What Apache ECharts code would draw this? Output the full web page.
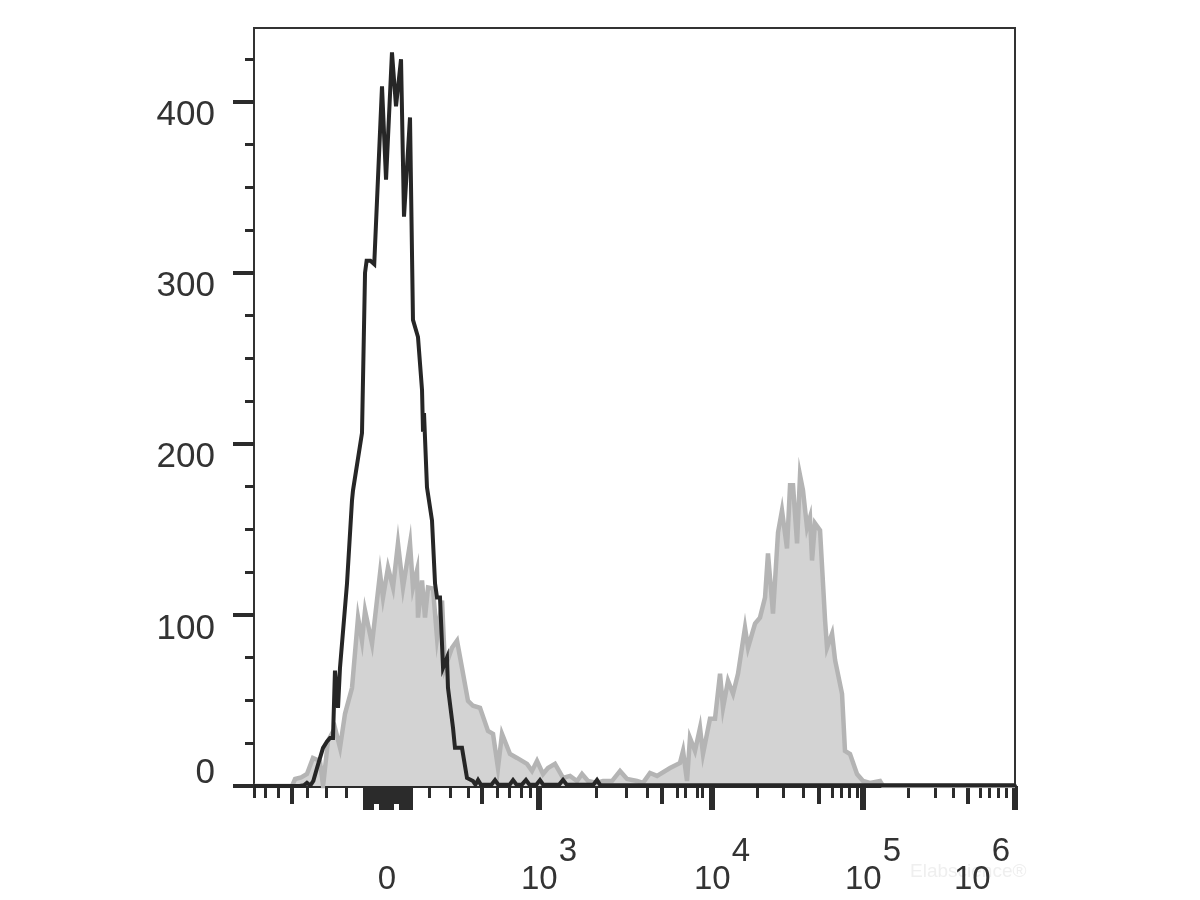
<!DOCTYPE html>
<html><head><meta charset="utf-8">
<script src="https://cdn.jsdelivr.net/npm/echarts@6/dist/echarts.min.js"></script>
<style>html,body{margin:0;padding:0;background:#fff}#c{width:1200px;height:900px}</style>
</head><body><div id="c"></div>
<script>
// x: display channel (0..1000 across the biexponential axis), y: event count
const controlX = [0,60,66,69.6,74,78,82.8,90.7,96,99.9,103.8,106.4,110.4,113,122.2,128.8,130.1,141.9,145.9,148,153,158,168.2,173.5,181.3,186.6,193.2,197.1,205,208.9,215.5,220.8,222.1,223.4,227.3,233.9,237.9,240.5,244.4,248.4,253.6,254.9,261.5,264.1,273.3,279.9,287.8,291,294.4,298,312,316.7,321,336,340.4,345,352,357.4,362,371,375.8,380,401,406.1,411,446,450.7,455,1000];
const controlY = [0,0,0.5,1.8,0.3,3,10.5,22.3,26,28.1,28.1,67.4,45.7,69.1,118.3,167,172.8,206.2,299.9,307,307,305,408.9,354.4,428.8,397.2,424.7,332.7,390.7,272.4,262.4,231.4,207,218,174.6,155.2,118.3,110.1,110.1,69.1,75,57.4,34,22.3,22.3,4.7,2.9,0.8,3.5,0.8,0.8,3.5,0.8,0.8,3.5,0.8,0.8,3.5,0.8,0.8,3.5,0.8,0.8,3.5,0.8,0.8,3.5,0.5,0.5];

const stainedX = [0,50,54,62,69.6,77.5,86.7,90,90.7,91.5,97.2,106.4,113,119.6,128.8,136.7,141.9,145.9,155.1,165.6,169.5,176.1,182.7,189.2,195.8,205,208.9,214.2,215.5,220.8,224.7,228.7,235.2,240.5,247.1,251,260.2,266.8,273.3,281.2,287.8,297,307.5,314.1,320.6,325.9,336.4,345.6,358.8,365.3,371.9,379.8,386.3,395.5,406.1,415.3,424.5,431,438.9,450.7,458.6,470.4,481,490.2,503.3,511.2,520.4,529.6,546.7,559.8,563.8,569,572.9,579.5,586.1,590,599.2,605.8,612.4,616.3,622.9,629.5,636,645.2,649.2,658.4,664.9,671.5,675.4,682,688.6,693.8,700.4,704.4,708.3,713.6,717.5,721.4,726.7,730.6,733.3,737.2,743.8,750.4,753,759.6,763.6,772.7,776.6,783.2,792.4,800.3,809.5,822.6,826.6,1000];
const stainedY = [0,0,4.1,5,7,16.4,14.6,3,0.5,3,26.4,34,22.3,42.2,57.4,98.4,84.9,102.5,83.2,124.2,110.1,127.7,116,141.8,116,141.8,116,126,98.4,120.1,98.4,116,115.4,86.7,108.4,69.1,80.8,84.9,69.1,49.8,46.9,45.7,32.2,30.5,10.5,30.5,18.7,16.4,12.9,8.8,14.6,7,10.5,12.9,4.7,5.9,2.9,7,2.9,1.8,2.9,2.9,8.8,4.1,2.9,1.8,7.6,5.9,10.5,13.5,20.5,2.9,28.1,20.5,34,18.7,39.3,39.3,65.6,45.7,61.5,53.9,65.6,92.6,80.8,94.9,98.4,110.1,135.9,100.8,148.2,161.1,138.8,175.7,175.7,141.8,181.6,172.8,151.1,157,131.8,153.5,149.4,97,80.8,89,73.5,53.9,20.5,18.7,7,2.9,1.8,2.9,0,0];

// x tick positions (display channel)
const xMajorTicks = [374.5, 601.9, 800.3, 1000];
const xMediumTicks = [49.9, 299.6, 536.2, 742.5, 938.3];
const xMinorTicks = [0, 14.5, 31.5, 69.6, 94.6, 120.9, 230.0, 257.6, 281.2, 319.3, 335.1, 350.9, 362.7, 449.4, 488.8, 516.4, 555.9, 566.4, 582.1, 588.7, 661.0, 695.2, 721.4, 759.6, 771.4, 781.9, 792.4, 859.4, 894.9, 918.6, 954.1, 965.9, 977.7, 988.2];
const xZeroTicks = [144.6, 147.2, 149.8, 152.4, 155.1, 165.6, 168.2, 170.8, 173.5, 176.1, 178.7, 181.3, 191.9, 194.5, 197.1, 199.7, 202.4, 205.0, 206.3];
const xZeroShortTicks = [157.7, 160.3, 162.9, 184.0, 186.6, 189.2];
const xLabelValues = [174.8, 374.5, 601.9, 800.3, 1000];
const xLabelBase = ['0', '10', '10', '10', '10'];
const xLabelExp = ['', '3', '4', '5', '6'];

// y ticks (counts)
const yMajorTicks = [0, 100, 200, 300, 400];
const yMinorTicks = [25, 50, 75, 125, 150, 175, 225, 250, 275, 325, 350, 375, 425];
const yMax = 443;

const FONT = '"Liberation Sans", Arial, Helvetica, sans-serif';
const TXT = '#333333';
const INK = '#2b2b2b';
const XFS = 33;

function zip(a, b) { return a.map((v, i) => [v, b[i]]); }

function tickAxis(values, len, width, extra) {
  return Object.assign({
    type: 'value', min: 0, max: 1000, position: 'bottom',
    axisLine: { show: false }, splitLine: { show: false },
    axisLabel: { show: false },
    axisTick: { show: true, customValues: values, length: len, inside: false,
      lineStyle: { color: INK, width: width } }
  }, extra || {});
}

const chart = echarts.init(document.getElementById('c'), null, { renderer: 'canvas' });
chart.setOption({
  animation: false,
  backgroundColor: '#ffffff',
  grid: { left: 254, right: 185, top: 28, bottom: 114, show: true, borderColor: '#333', borderWidth: 2, backgroundColor: 'transparent' },
  xAxis: [
    {
      type: 'value', min: 0, max: 1000, position: 'bottom',
      axisLine: { show: true, lineStyle: { color: INK, width: 4 } },
      splitLine: { show: false },
      axisTick: { show: true, customValues: xMajorTicks, length: 24, lineStyle: { color: INK, width: 6 } },
      axisLabel: {
        show: true, customValues: xLabelValues, margin: 49, color: TXT,
        fontFamily: FONT, fontSize: XFS,
        formatter: function (v) {
          let i = 0, best = 1e9;
          xLabelValues.forEach((lv, k) => { if (Math.abs(lv - v) < best) { best = Math.abs(lv - v); i = k; } });
          if (!xLabelExp[i]) return '{z|' + xLabelBase[i] + '}';
          if (i === xLabelValues.length - 1) return '{b0|' + xLabelBase[i] + '}{eL|' + xLabelExp[i] + '}';
          return '{b|' + xLabelBase[i] + '}{e|' + xLabelExp[i] + '}';
        },
        rich: {
          z: { fontFamily: FONT, fontSize: XFS, color: TXT, padding: [28, 0, 0, 0] },
          b: { fontFamily: FONT, fontSize: XFS, color: TXT, padding: [28, 0, 0, 20] },
          b0: { fontFamily: FONT, fontSize: XFS, color: TXT, padding: [28, 0, 0, 0] },
          e: { fontFamily: FONT, fontSize: XFS, color: TXT, padding: [0, 0, 28, 1] },
          eL: { fontFamily: FONT, fontSize: XFS, color: TXT, padding: [0, 66, 28, 1] }
        }
      }
    },
    tickAxis(xMediumTicks, 18, 4),
    tickAxis(xMinorTicks, 12, 3),
    tickAxis(xZeroTicks, 24, 3),
    tickAxis(xZeroShortTicks, 18, 3)
  ],
  yAxis: [
    {
      type: 'value', min: 0, max: yMax, position: 'left',
      axisLine: { show: true, lineStyle: { color: '#333', width: 2 } },
      splitLine: { show: false },
      axisTick: { show: true, customValues: yMajorTicks, length: 21, lineStyle: { color: INK, width: 4 } },
      axisLabel: {
        show: true, customValues: yMajorTicks, margin: 39, color: TXT, fontFamily: FONT, fontSize: 35,
        formatter: function (v) { return v === 0 ? '{z|0}' : '{n|' + v + '}'; },
        rich: {
          z: { fontFamily: FONT, fontSize: 35, color: TXT, padding: [0, 0, 26, 0] },
          n: { fontFamily: FONT, fontSize: 35, color: TXT, padding: [28, 0, 0, 0] }
        }
      }
    },
    {
      type: 'value', min: 0, max: yMax, position: 'left',
      axisLine: { show: false }, splitLine: { show: false }, axisLabel: { show: false },
      axisTick: { show: true, customValues: yMinorTicks, length: 9, lineStyle: { color: INK, width: 3 } }
    }
  ],
  graphic: [{
    type: 'text', left: 910, top: 862, silent: true, z: 0,
    style: { text: 'Elabscience®', fontFamily: FONT, fontSize: 19, fill: '#efefef' }
  }],
  series: [
    {
      name: 'Stained', type: 'line', xAxisIndex: 0, yAxisIndex: 0,
      data: zip(stainedX, stainedY), showSymbol: false, symbol: 'none',
      lineStyle: { color: '#b4b4b4', width: 4.5, join: 'miter' },
      areaStyle: { color: '#d3d3d3', opacity: 1 },
      z: 2
    },
    {
      name: 'Control', type: 'line', xAxisIndex: 0, yAxisIndex: 0,
      data: zip(controlX, controlY), showSymbol: false, symbol: 'none',
      lineStyle: { color: '#262626', width: 4, join: 'miter' },
      z: 3
    }
  ]
});
</script></body></html>
